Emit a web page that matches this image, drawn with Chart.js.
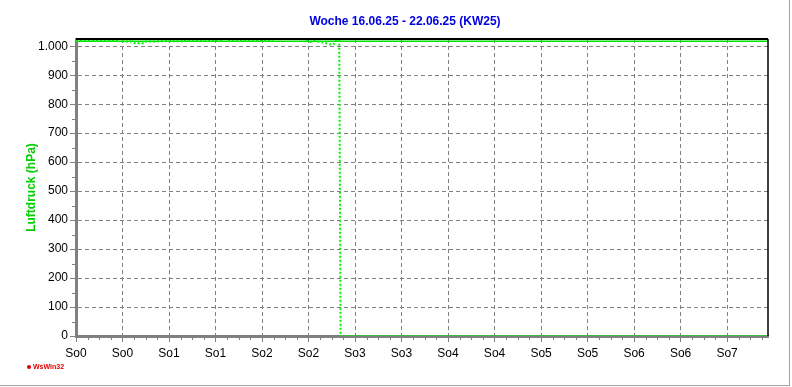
<!DOCTYPE html>
<html>
<head>
<meta charset="utf-8">
<script src="https://cdn.jsdelivr.net/npm/chart.js@4.4.0/dist/chart.umd.min.js"></script>
<style>
  body { margin: 0; background: #fff; }
  #box { width: 789px; height: 385px; border-right: 1px solid #a0a0a0; border-bottom: 1px solid #a0a0a0; }
</style>
</head>
<body>
<div id="box"><canvas id="myChart" width="789" height="385"></canvas></div>
<script>
// chart data (x in tick steps, null = no reading)
var titleText = 'Woche 16.06.25 - 22.06.25 (KW25)'
var yLabel = 'Luftdruck (hPa)'
var xTickLabels = ['So0', 'So0', 'So1', 'So1', 'So2', 'So2', 'So3', 'So3', 'So4', 'So4', 'So5', 'So5', 'So6', 'So6', 'So7']
var yTicks = [0, 100, 200, 300, 400, 500, 600, 700, 800, 900, 1000]
var xEnd = 14.88
var yMax = 1025
var pressureX = [0, 0.3, 0.6, 0.9, 0.95,
    0.99, 1.2, 1.27, 1.45, 1.5, 1.8, 2.0, 2.05, 2.1, 2.32, 2.35, 2.9, 2.95, 3.15, 3.2,
    3.27, 4.24, 4.5,
    4.95, 5.03, 5.12, 5.2, 5.35, 5.45, 5.55, 5.6, 5.66, 5.69, 14.88]
var pressure = [1019, 1019, 1019, 1019, null,
    1016, 1016, 1010, 1010, 1016, 1017, 1018, 1021, 1017, 1017, 1021, 1021, 1019, 1019, null,
    1019, 1019, null,
    1020, 1014, 1019, 1016, 1012, 1006, 1008, 1022, 1020, 0, 0]
var averageValue = 1017

var font = 'Liberation Sans, Arial, sans-serif'

var points = []
pressureX.forEach(function(x, i) {
    points.push({ x: x, y: pressure[i] })
})

// extra drawing: frame, minor ticks, title, axis label, logo
var extras = {
    id: 'extras',
    afterDraw: function(chart) {
        var ctx = chart.ctx
        var a = chart.chartArea
        var xs = chart.scales.x
        var ys = chart.scales.y
        ctx.save()
        ctx.strokeStyle = '#000'
        ctx.lineWidth = 2
        ctx.beginPath()
        ctx.moveTo(a.left, a.top)
        ctx.lineTo(a.right, a.top)
        ctx.stroke()
        ctx.lineWidth = 1.5
        ctx.beginPath()
        ctx.moveTo(a.right, a.top)
        ctx.lineTo(a.right, a.bottom)
        ctx.stroke()

        ctx.strokeStyle = '#808080'
        ctx.lineWidth = 1
        ctx.beginPath()
        for (var i = 0; i < xEnd; i++) {
            [0.25, 0.5, 0.75].forEach(function(f) {
                if (i + f < xEnd) {
                    var px = Math.round(xs.getPixelForValue(i + f)) + 0.5
                    ctx.moveTo(px, a.bottom + 1)
                    ctx.lineTo(px, a.bottom + 4)
                }
            })
        }
        for (var v = 50; v < yMax; v += 100) {
            var py = Math.round(ys.getPixelForValue(v)) + 0.5
            ctx.moveTo(a.left - 4, py)
            ctx.lineTo(a.left - 1, py)
        }
        ctx.stroke()

        ctx.fillStyle = '#0000e0'
        ctx.font = 'bold 12px ' + font
        ctx.textAlign = 'center'
        ctx.textBaseline = 'middle'
        ctx.fillText(titleText, 405, 22)

        ctx.translate(32, (a.top + a.bottom) / 2)
        ctx.rotate(-Math.PI / 2)
        ctx.fillStyle = '#00d000'
        ctx.fillText(yLabel, 0, 0)
        ctx.restore()

        ctx.save()
        ctx.fillStyle = '#e00000'
        ctx.beginPath()
        ctx.arc(29, 367, 2, 0, Math.PI * 2)
        ctx.fill()
        ctx.font = 'bold 7px ' + font
        ctx.textBaseline = 'middle'
        ctx.fillText('WsWin32', 33, 367)
        ctx.restore()
    }
}

var ctx = document.getElementById('myChart').getContext('2d')
var myChart = new Chart(ctx, {
    type: 'line',
    data: {
        datasets: [{
            data: points,
            borderColor: '#00f000',
            borderWidth: 2,
            borderDash: [2, 2],
            pointRadius: 0,
            spanGaps: false
        }, {
            data: [{ x: 0, y: averageValue }, { x: xEnd, y: averageValue }],
            borderColor: '#00e000',
            borderWidth: 1.5,
            pointRadius: 0
        }]
    },
    options: {
        responsive: false,
        animation: false,
        layout: { padding: { top: 39, right: 21, left: 0, bottom: 0 } },
        plugins: { legend: { display: false }, tooltip: { enabled: false } },
        scales: {
            x: {
                type: 'linear',
                min: 0,
                max: xEnd,
                afterBuildTicks: function(s) {
                    s.ticks = xTickLabels.map(function(l, i) { return { value: i } })
                },
                afterFit: function(s) { s.height = 49 },
                ticks: {
                    autoSkip: false,
                    maxRotation: 0,
                    padding: 4,
                    color: '#000',
                    font: { family: font, size: 12 },
                    callback: function(v) { return xTickLabels[v] }
                },
                grid: {
                    color: '#808080',
                    tickBorderDash: [],
                    tickLength: 6,
                    tickColor: '#808080'
                },
                border: { color: '#808080', width: 3, dash: [4, 3] }
            },
            y: {
                min: 0,
                max: yMax,
                afterBuildTicks: function(s) {
                    s.ticks = yTicks.map(function(v) { return { value: v } })
                },
                afterFit: function(s) { s.width = 76 },
                ticks: {
                    padding: 2,
                    color: '#000',
                    font: { family: font, size: 12 },
                    callback: function(v) { return v >= 1000 ? '1.' + String(v).slice(1) : v }
                },
                grid: {
                    color: '#808080',
                    tickBorderDash: [],
                    tickLength: 6,
                    tickColor: '#808080'
                },
                border: { color: '#808080', width: 3, dash: [4, 3] }
            }
        }
    },
    plugins: [extras]
})
</script>
</body>
</html>
